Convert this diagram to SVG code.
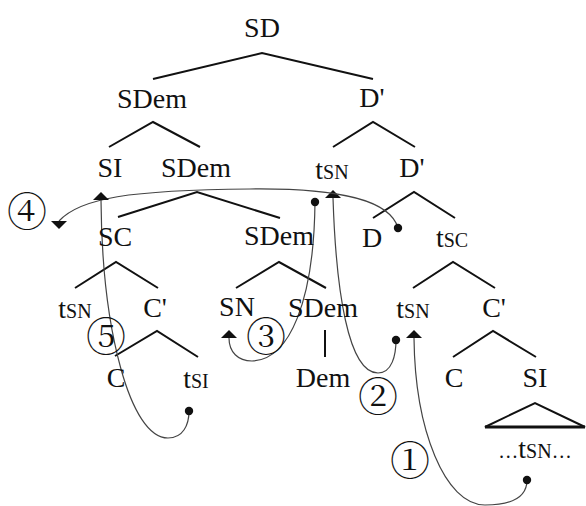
<svg xmlns="http://www.w3.org/2000/svg" width="586" height="506" viewBox="0 0 586 506">
<style>
  .lbl { font-size: 28px; fill: #111; text-anchor: middle; }
  .sc { font-size: 20px; }
  .num { font-size: 40px; fill: #111; text-anchor: middle; dominant-baseline: central; }
  .br { fill: none; stroke: #111; stroke-width: 2; stroke-linejoin: miter; }
  .mv { fill: none; stroke: #444; stroke-width: 1.2; }
  .head { fill: #111; stroke: none; }
</style>
<defs>
  <path id="triUp" d="M-8,0 L8,0 L0,-8 Z"/>
  <path id="triDown" d="M-8,0 L8,0 L0,8 Z"/>
  <circle id="dotc" cx="0" cy="0" r="4.2"/>
</defs>
<rect width="586" height="506" fill="#fff"/>

<g id="connectors">
  <polyline class="br" points="153,79 262,53 373,79"/>
  <polyline class="br" points="109,147 153,122 200,147"/>
  <polyline class="br" points="333,147 373,122 415,147"/>
  <polyline class="br" points="118,217 197,192 280,218"/>
  <polyline class="br" points="373,218 414,192 455,218"/>
  <polyline class="br" points="75,288 116,262 158,288"/>
  <polyline class="br" points="236,288 279,262 326,288"/>
  <polyline class="br" points="413,288 453,262 495,288"/>
  <polyline class="br" points="115,356 157,331 198,357"/>
  <polyline class="br" points="453,357 493,331 536,357"/>
  <line class="br" x1="325" y1="330" x2="325" y2="357"/>
  <polygon class="br" points="485,427 535,403 585,427"/>
  <line x1="485" y1="427" x2="585" y2="427" stroke="#111" stroke-width="3"/>

  <g id="move1">
    <path class="mv" d="M414,338 C415,430 445,505 485,505 C515,505 527,495 527,480"/>
    <use class="head" href="#triUp" x="414" y="338"/>
    <use class="head" href="#dotc" x="527" y="480"/>
  </g>
  <g id="move2">
    <path class="mv" d="M333,198 C336,290 348,373 378,373 C392,373 396,355 396,340"/>
    <use class="head" href="#triUp" x="333" y="198"/>
    <use class="head" href="#dotc" x="396" y="340"/>
  </g>
  <g id="move3">
    <path class="mv" d="M229,338 C229,352 238,361 252,361 C290,360 314,300 315,202"/>
    <use class="head" href="#triUp" x="229" y="338"/>
    <use class="head" href="#dotc" x="315" y="202"/>
  </g>
  <g id="move4">
    <path class="mv" d="M59,221 C80,198 130,190 250,189 C340,188 390,200 398,228"/>
    <use class="head" href="#triDown" x="59" y="221"/>
    <use class="head" href="#dotc" x="398" y="228"/>
  </g>
  <g id="move5">
    <path class="mv" d="M101,200 C102,330 130,438 168,438 C183,438 189,425 189,411"/>
    <use class="head" href="#triUp" x="101" y="200"/>
    <use class="head" href="#dotc" x="189" y="411"/>
  </g>
</g>

<g id="nodes">
<g id="n-SD"><text class="lbl" style="font-family:'Liberation Serif',serif" x="262" y="37">SD</text></g>
<g id="n-SDem1"><text class="lbl" style="font-family:'Liberation Serif',serif" x="152" y="108">SDem</text></g>
<g id="n-Dbar1"><text class="lbl" style="font-family:'Liberation Serif',serif" x="372" y="107">D'</text></g>
<g id="n-SI1"><text class="lbl" style="font-family:'Liberation Serif',serif" x="110" y="177">SI</text></g>
<g id="n-SDem2"><text class="lbl" style="font-family:'Liberation Serif',serif" x="196" y="177">SDem</text></g>
<g id="n-tSN1"><text class="lbl" style="font-family:'Liberation Serif',serif" x="332" y="179">t<tspan class="sc">SN</tspan></text></g>
<g id="n-Dbar2"><text class="lbl" style="font-family:'Liberation Serif',serif" x="412" y="177">D'</text></g>
<g id="n-SC"><text class="lbl" style="font-family:'Liberation Serif',serif" x="115" y="246">SC</text></g>
<g id="n-SDem3"><text class="lbl" style="font-family:'Liberation Serif',serif" x="279" y="245">SDem</text></g>
<g id="n-D"><text class="lbl" style="font-family:'Liberation Serif',serif" x="372" y="247">D</text></g>
<g id="n-tSC"><text class="lbl" style="font-family:'Liberation Serif',serif" x="452" y="247">t<tspan class="sc">SC</tspan></text></g>
<g id="n-tSN2"><text class="lbl" style="font-family:'Liberation Serif',serif" x="75" y="318">t<tspan class="sc">SN</tspan></text></g>
<g id="n-Cbar1"><text class="lbl" style="font-family:'Liberation Serif',serif" x="155" y="317">C'</text></g>
<g id="n-SN"><text class="lbl" style="font-family:'Liberation Serif',serif" x="237" y="316">SN</text></g>
<g id="n-SDem4"><text class="lbl" style="font-family:'Liberation Serif',serif" x="323" y="317">SDem</text></g>
<g id="n-tSN3"><text class="lbl" style="font-family:'Liberation Serif',serif" x="413" y="318">t<tspan class="sc">SN</tspan></text></g>
<g id="n-Cbar2"><text class="lbl" style="font-family:'Liberation Serif',serif" x="494" y="317">C'</text></g>
<g id="n-C1"><text class="lbl" style="font-family:'Liberation Serif',serif" x="116" y="387">C</text></g>
<g id="n-tSI"><text class="lbl" style="font-family:'Liberation Serif',serif" x="196" y="388">t<tspan class="sc">SI</tspan></text></g>
<g id="n-Dem"><text class="lbl" style="font-family:'Liberation Serif',serif" x="323" y="387">Dem</text></g>
<g id="n-C2"><text class="lbl" style="font-family:'Liberation Serif',serif" x="454" y="387">C</text></g>
<g id="n-SI2"><text class="lbl" style="font-family:'Liberation Serif',serif" x="535" y="387">SI</text></g>
<g id="n-tSN4"><text class="lbl" style="font-family:'Liberation Serif',serif" x="535" y="458"><tspan class="sc">…</tspan>t<tspan class="sc">SN…</tspan></text></g>
</g>

<g id="numbers">
<g id="n-num1"><text class="num" style="font-family:'Noto Serif CJK JP','Noto Sans CJK JP',serif" x="410" y="457">①</text></g>
<g id="n-num2"><text class="num" style="font-family:'Noto Serif CJK JP','Noto Sans CJK JP',serif" x="378" y="393">②</text></g>
<g id="n-num3"><text class="num" style="font-family:'Noto Serif CJK JP','Noto Sans CJK JP',serif" x="266" y="333">③</text></g>
<g id="n-num4"><text class="num" style="font-family:'Noto Serif CJK JP','Noto Sans CJK JP',serif" x="27" y="208">④</text></g>
<g id="n-num5"><text class="num" style="font-family:'Noto Serif CJK JP','Noto Sans CJK JP',serif" x="106" y="333">⑤</text></g>
</g>
</svg>
